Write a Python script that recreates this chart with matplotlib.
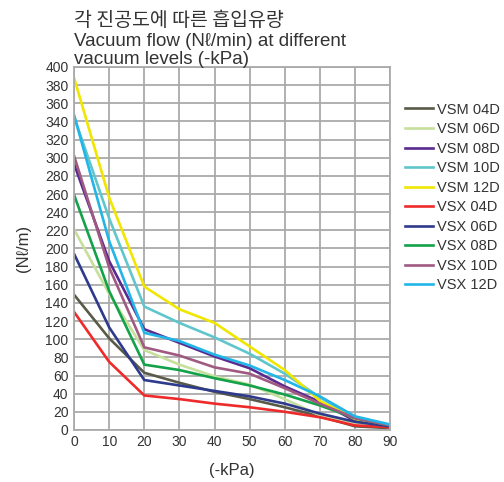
import matplotlib
matplotlib.use("Agg")
import matplotlib.pyplot as plt

plt.rcParams['font.family'] = ['Liberation Sans', 'DejaVu Sans']

x_kpa = [0, 10, 20, 30, 40, 50, 60, 70, 80, 90]
x_ticks = [0, 10, 20, 30, 40, 50, 60, 70, 80, 90]
y_ticks = list(range(0, 401, 20))

series_names = ["VSM 04D", "VSM 06D", "VSM 08D", "VSM 10D", "VSM 12D",
                "VSX 04D", "VSX 06D", "VSX 08D", "VSX 10D", "VSX 12D"]

vsm_04d = [149, 101, 63, 52, 42, 34, 25, 15, 4, 2]
vsm_06d = [221, 150, 88, 72, 59, 50, 34, 16, 8, 3]
vsm_08d = [293, 186, 111, 96, 81, 68, 48, 31, 10, 5]
vsm_10d = [345, 233, 136, 118, 102, 84, 62, 36, 13, 5]
vsm_12d = [388, 256, 158, 133, 118, 92, 66, 32, 12, 5]
vsx_04d = [130, 75, 38, 34, 29, 25, 20, 14, 5, 3]
vsx_06d = [194, 113, 55, 49, 43, 37, 29, 18, 9, 4]
vsx_08d = [259, 153, 72, 66, 57, 49, 39, 27, 13, 5]
vsx_10d = [302, 179, 91, 82, 69, 62, 46, 29, 13, 5]
vsx_12d = [347, 208, 107, 98, 83, 71, 55, 37, 15, 6]

series_values = [vsm_04d, vsm_06d, vsm_08d, vsm_10d, vsm_12d,
                 vsx_04d, vsx_06d, vsx_08d, vsx_10d, vsx_12d]
colors = ["#5a5a48", "#c6e09c", "#5b2a8f", "#5fc6cc", "#f0e600",
          "#ee2a2a", "#2e3a8c", "#13a24a", "#a05a82", "#22b5e8"]

fig = plt.figure(figsize=(5.04, 4.82), dpi=100)
ax = fig.add_axes([0.147, 0.108, 0.627, 0.753])

for name, vals, c in zip(series_names, series_values, colors):
    ax.plot(x_kpa, vals, color=c, lw=1.9, label=name, solid_joinstyle='miter')

ax.set_xlim(0, 90)
ax.set_ylim(0, 400)
ax.set_xticks(x_ticks)
ax.set_yticks(y_ticks)
ax.grid(True, color="#aaaaaa", lw=1.3)
ax.set_axisbelow(True)
ax.tick_params(length=0, labelsize=10, colors="#333333", pad=4)
for s in ax.spines.values():
    s.set_color("#aaaaaa")
    s.set_linewidth(1.3)

ax.set_xlabel("(-kPa)", fontsize=12, color="#333333", labelpad=10)
ax.set_ylabel("(N\u2113/m)", fontsize=12, color="#333333", labelpad=10)

fig.text(0.147, 0.947, "각 진공도에 따른 흡입유량", fontsize=14,
         family=['Noto Sans CJK KR', 'DejaVu Sans'], color="#333333",
         va='baseline')
fig.text(0.147, 0.905, "Vacuum flow (N\u2113/min) at different", fontsize=13.5,
         color="#333333", va='baseline')
fig.text(0.147, 0.868, "vacuum levels (-kPa)", fontsize=13.5,
         color="#333333", va='baseline')

leg = ax.legend(loc='upper left', bbox_to_anchor=(1.03, 0.918), frameon=False,
                fontsize=10.5, handlelength=1.9, labelspacing=0.38,
                handletextpad=0.25, borderaxespad=0)
for t in leg.get_texts():
    t.set_color("#333333")

fig.savefig("out.png", dpi=100)
